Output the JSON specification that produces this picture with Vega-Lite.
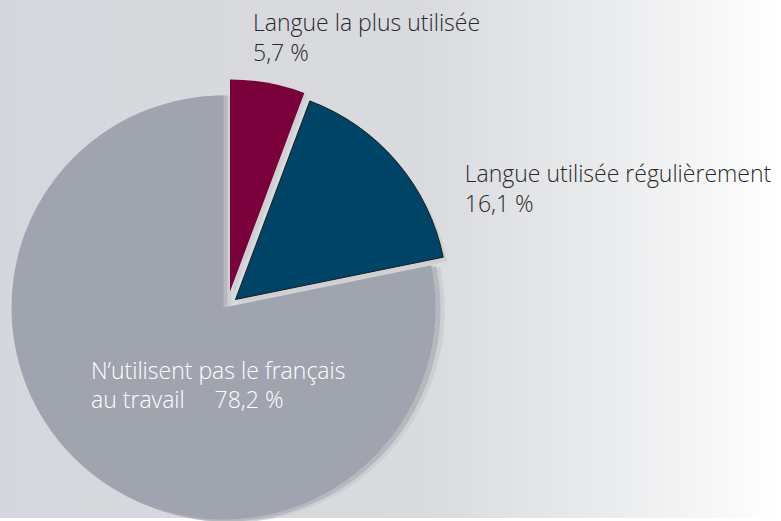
{
  "$schema": "https://vega.github.io/schema/vega-lite/v6.json",
  "width": 781,
  "height": 521,
  "autosize": {"type": "fit", "contains": "padding"},
  "padding": 0,
  "background": "#ffffff",
  "view": {
    "stroke": null,
    "fill": {
      "gradient": "linear", "x1": 0, "y1": 0, "x2": 1, "y2": 0,
      "stops": [
        {"offset": 0, "color": "#d5d7dc"},
        {"offset": 0.55, "color": "#d9dbdf"},
        {"offset": 0.8, "color": "#ecedee"},
        {"offset": 1, "color": "#ffffff"}
      ]
    }
  },
  "data": {
    "values": [
      {"cat": "plus", "value": 5.7, "label": ["Langue la plus utilisée", "5,7 %"]},
      {"cat": "reg", "value": 16.1, "label": ["Langue utilisée régulièrement", "16,1 %"]},
      {"cat": "non", "value": 78.2, "label": ["N’utilisent pas le français", "au travail\u00a0\u00a0\u00a0\u00a0\u00a078,2 %"]}
    ]
  },
  "transform": [
    {"stack": "value", "groupby": [], "sort": [{"field": "value", "order": "ascending"}], "as": ["v0", "v1"]}
  ],
  "layer": [
    {
      "transform": [{"filter": "datum.cat === 'non'"}],
      "mark": {"type": "arc", "outerRadius": 213, "xOffset": -159, "yOffset": 50.5, "fill": "#cbcdd1", "opacity": 0.9},
      "encoding": {"theta": {"field": "v0", "type": "quantitative", "scale": {"domain": [0, 100]}, "stack": null}, "theta2": {"field": "v1"}}
    },
    {
      "transform": [{"filter": "datum.cat === 'non'"}],
      "mark": {"type": "arc", "outerRadius": 213, "xOffset": -163, "yOffset": 49.5, "fill": "#b6b8be"},
      "encoding": {"theta": {"field": "v0", "type": "quantitative", "scale": {"domain": [0, 100]}, "stack": null}, "theta2": {"field": "v1"}}
    },
    {
      "transform": [{"filter": "datum.cat === 'non'"}],
      "mark": {"type": "arc", "outerRadius": 212, "xOffset": -167, "yOffset": 48.5, "fill": "#a0a4ae"},
      "encoding": {"theta": {"field": "v0", "type": "quantitative", "scale": {"domain": [0, 100]}, "stack": null}, "theta2": {"field": "v1"}}
    },
    {
      "transform": [{"filter": "datum.cat === 'plus'"}],
      "mark": {"type": "arc", "outerRadius": 213, "xOffset": -157, "yOffset": 35.5, "fill": "#cfd0d4"},
      "encoding": {"theta": {"field": "v0", "type": "quantitative", "scale": {"domain": [0, 100]}, "stack": null}, "theta2": {"field": "v1"}}
    },
    {
      "transform": [{"filter": "datum.cat === 'plus'"}],
      "mark": {"type": "arc", "outerRadius": 212, "xOffset": -160.5, "yOffset": 32.5, "fill": "#7a003c"},
      "encoding": {"theta": {"field": "v0", "type": "quantitative", "scale": {"domain": [0, 100]}, "stack": null}, "theta2": {"field": "v1"}}
    },
    {
      "transform": [{"filter": "datum.cat === 'reg'"}],
      "mark": {"type": "arc", "outerRadius": 213, "xOffset": -152, "yOffset": 45, "fill": "#cfd0d4"},
      "encoding": {"theta": {"field": "v0", "type": "quantitative", "scale": {"domain": [0, 100]}, "stack": null}, "theta2": {"field": "v1"}}
    },
    {
      "transform": [{"filter": "datum.cat === 'reg'"}],
      "mark": {"type": "arc", "outerRadius": 212, "xOffset": -155, "yOffset": 40.5, "fill": "#004468", "stroke": "#1c1c1c", "strokeWidth": 1},
      "encoding": {"theta": {"field": "v0", "type": "quantitative", "scale": {"domain": [0, 100]}, "stack": null}, "theta2": {"field": "v1"}}
    },
    {
      "transform": [{"filter": "datum.cat === 'plus'"}],
      "mark": {"type": "text", "radius": 265, "xOffset": -160.5, "yOffset": 32.5, "dx": 23, "dy": 4, "align": "left", "baseline": "alphabetic", "lineHeight": 30, "font": "Open Sans", "fontSize": 23, "fontWeight": 300, "color": "#2a2a2a"},
      "encoding": {"theta": {"field": "v0", "type": "quantitative", "scale": {"domain": [0, 100]}, "stack": null}, "text": {"field": "label"}}
    },
    {
      "transform": [{"filter": "datum.cat === 'reg'"}],
      "mark": {"type": "text", "radius": 234, "xOffset": -155, "yOffset": 40.5, "dy": -71, "align": "left", "baseline": "alphabetic", "lineHeight": 30, "font": "Open Sans", "fontSize": 23, "fontWeight": 300, "color": "#2a2a2a"},
      "encoding": {"theta": {"field": "v1", "type": "quantitative", "scale": {"domain": [0, 100]}, "stack": null}, "text": {"field": "label"}}
    },
    {
      "transform": [{"filter": "datum.cat === 'non'"}],
      "mark": {"type": "text", "radius": 0, "xOffset": -167, "yOffset": 48.5, "dx": -132.5, "dy": 71, "align": "left", "baseline": "alphabetic", "lineHeight": 29, "font": "Open Sans", "fontSize": 23, "fontWeight": 300, "color": "#ffffff"},
      "encoding": {"theta": {"field": "v1", "type": "quantitative", "scale": {"domain": [0, 100]}, "stack": null}, "text": {"field": "label"}}
    }
  ]
}
